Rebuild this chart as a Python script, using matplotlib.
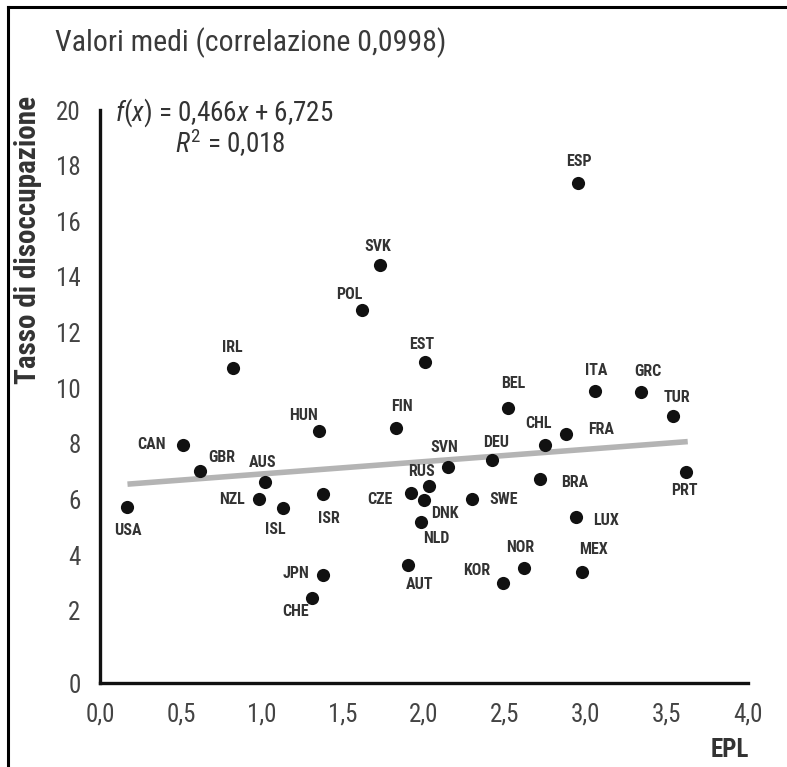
'''scatter: EPL vs tasso di disoccupazione (valori medi)'''
import matplotlib
matplotlib.use('Agg')
import matplotlib.pyplot as plt
from matplotlib.lines import Line2D

plt.rcParams['font.family'] = ['Roboto Condensed', 'Archivo Narrow', 'DejaVu Sans']
plt.rcParams['mathtext.fontset'] = 'custom'
plt.rcParams['mathtext.rm'] = 'Roboto Condensed'
plt.rcParams['mathtext.it'] = 'Roboto Condensed:italic'

# data
countries = ['USA', 'CAN', 'GBR', 'AUS', 'NZL', 'ISL', 'IRL', 'HUN', 'ISR', 'JPN',
             'CHE', 'POL', 'SVK', 'FIN', 'EST', 'CZE', 'RUS', 'DNK', 'NLD', 'AUT',
             'SVN', 'SWE', 'DEU', 'KOR', 'BEL', 'NOR', 'BRA', 'CHL', 'FRA', 'LUX',
             'ESP', 'MEX', 'ITA', 'GRC', 'TUR', 'PRT']
epl = [0.17, 0.51, 0.62, 1.02, 0.98, 1.13, 0.82, 1.35, 1.38, 1.38,
       1.31, 1.62, 1.73, 1.83, 2.01, 1.92, 2.03, 2.00, 1.98, 1.90,
       2.15, 2.30, 2.42, 2.49, 2.52, 2.62, 2.72, 2.75, 2.88, 2.94,
       2.95, 2.98, 3.06, 3.34, 3.54, 3.62]
unemp = [5.73, 7.96, 7.02, 6.63, 6.01, 5.69, 10.73, 8.46, 6.19, 3.28,
         2.45, 12.81, 14.43, 8.57, 10.94, 6.23, 6.48, 5.98, 5.19, 3.64,
         7.17, 6.01, 7.42, 2.99, 9.29, 3.53, 6.73, 7.96, 8.35, 5.37,
         17.38, 3.39, 9.90, 9.86, 9.00, 6.99]
# label offsets (pixels from the dot)
label_dx = [0, -31, 21, -2, -27, -8, 0, -15, 5, -27,
            -17, -13, -2, 6, -4, -31, -7, 21, 16, 12,
            -4, 31, 4, -26, 5, -4, 34, -7, 35, 30,
            1, 11, 1, 7, 4, -2]
label_dy = [-24, 0, 14, 19, 0, -21, 20, 16, -24, 2,
            -13, 16, 18, 21, 18, -6, 15, -13, -17, -19,
            19, 0, 17, 13, 24, 21, -3, 21, 5, -4,
            21, 23, 20, 21, 19, -19]

trend_x = [0.17, 3.63]
trend_y = [6.55, 8.08]

yticks = [-0.6, 2, 4, 6, 8, 10, 12, 14, 16, 18, 20]
ytick_labels = ['0', '2', '4', '6', '8', '10', '12', '14', '16', '18', '20']
xticks = [0, 0.5, 1, 1.5, 2, 2.5, 3, 3.5, 4]
xtick_labels = ['0,0', '0,5', '1,0', '1,5', '2,0', '2,5', '3,0', '3,5', '4,0']

fig = plt.figure(figsize=(7.87, 7.67), dpi=100)
ax = fig.add_axes([0.127, 0.1095, 0.823, 0.747])

ax.plot(trend_x, trend_y, color='#b4b4b4', lw=4, solid_capstyle='butt', zorder=1)
ax.scatter(epl, unemp, s=90, color='#111111', zorder=3, linewidths=0)

for name, x, y, dx, dy in zip(countries, epl, unemp, label_dx, label_dy):
    ax.annotate(name, (x, y), xytext=(dx, dy), textcoords='offset pixels',
                ha='center', va='center', fontsize=11.5, fontweight='bold',
                color='#333333', zorder=4)

ax.set_xlim(0, 4)
ax.set_ylim(-0.6, 20)
ax.set_xticks(xticks)
ax.set_xticklabels(xtick_labels)
ax.set_yticks(yticks)
ax.set_yticklabels(ytick_labels)
ax.tick_params(length=0, labelsize=18, labelcolor='#444444')
ax.tick_params(axis='y', pad=14)
ax.tick_params(axis='x', pad=14)
for side in ['top', 'right']:
    ax.spines[side].set_visible(False)
for side in ['left', 'bottom']:
    ax.spines[side].set_linewidth(2.4)
    ax.spines[side].set_color('#111111')

# texts
fig.text(55 / 787, 1 - 43 / 767, 'Valori medi (correlazione 0,0998)',
         fontsize=21.5, color='#3a3a3a', va='center', ha='left')
fig.text(115 / 787, 1 - 113 / 767, r'$f$($x$) = 0,466$x$ + 6,725',
         fontsize=19.5, color='#333333', va='center', ha='left')
fig.text(175 / 787, 1 - 143 / 767, r'$R^2$ = 0,018',
         fontsize=19.5, color='#333333', va='center', ha='left')
fig.text(28 / 787, 1 - 240 / 767, 'Tasso di disoccupazione', rotation=90,
         fontsize=21, fontweight='bold', color='#333333', va='center', ha='center')
fig.text(730 / 787, 1 - 750 / 767, 'EPL', fontsize=18, fontweight='bold',
         color='#333333', va='center', ha='center')

# frame (top and left edges only)
fig.add_artist(Line2D([8 / 787, 1], [1 - 7 / 767, 1 - 7 / 767], color='black', lw=2.2))
fig.add_artist(Line2D([8 / 787, 8 / 787], [0, 1 - 7 / 767], color='black', lw=2.2))

fig.savefig('out.png', dpi=100)
